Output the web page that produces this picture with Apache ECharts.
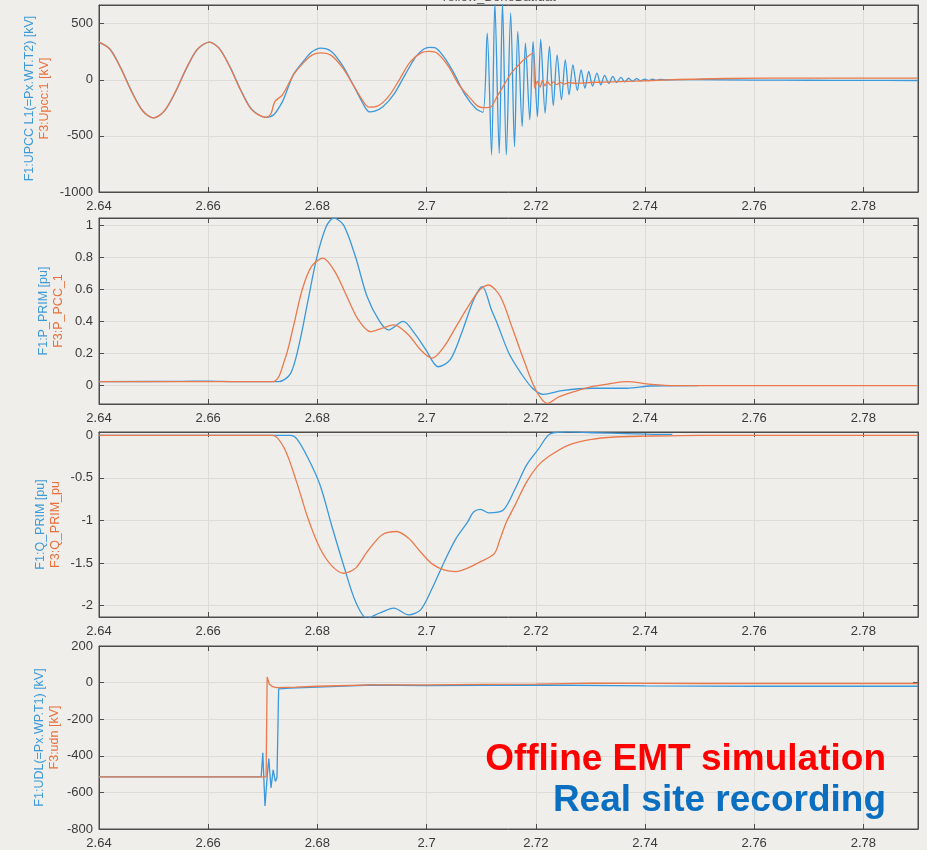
<!DOCTYPE html>
<html>
<head>
<meta charset="utf-8">
<script src="https://cdn.jsdelivr.net/npm/echarts@6/dist/echarts.min.js"></script>
<style>
html,body{margin:0;padding:0;background:#efeeea;}
#chart{width:927px;height:850px;}
</style>
</head>
<body>
<div id="chart"></div>
<script>
// ---- data (time [s], value) ----
const xTicks = [2.64, 2.66, 2.68, 2.70, 2.72, 2.74, 2.76, 2.78];

const upccBlue = [[2.640,336],[2.642,275],[2.644,105],[2.646,-105],[2.648,-275],[2.650,-340],[2.652,-277],[2.654,-108],[2.656,100],[2.658,270],[2.6602,336],[2.662,282],[2.664,115],[2.666,-95],[2.668,-265],[2.6706,-335],[2.672,-312],[2.6736,-194],[2.6745,-85],[2.6757,55],[2.6776,175],[2.679,250],[2.6806,283],[2.6825,255],[2.6845,135],[2.6865,-40],[2.6885,-225],[2.6895,-285],[2.6905,-280],[2.692,-240],[2.694,-130],[2.696,40],[2.698,205],[2.6995,275],[2.7005,290],[2.7015,286],[2.703,215],[2.705,60],[2.707,-130],[2.709,-255],[2.7103,-290],
[2.7111,417],[2.7119,-670],[2.7125,690],[2.7133,-655],[2.7139,690],[2.7146,-670],[2.7154,596],[2.7161,-596],[2.7167,432],[2.7175,-417],[2.7181,328],[2.7189,-357],[2.7195,342],[2.7203,-328],[2.7209,363],[2.7217,-297],[2.7225,297],[2.7232,-229],[2.7239,223],[2.7247,-178],[2.7254,178],[2.7261,-134],[2.7268,134],[2.7276,-95],[2.7283,89],[2.729,-74],[2.7297,74],[2.7304,-55],[2.7312,60],[2.7319,-45],[2.7326,40],[2.7334,-32],[2.7341,30],[2.7348,-24],[2.7356,22],[2.7363,-18],[2.737,14],[2.7377,-12],[2.7385,10],[2.7392,-9],[2.7399,7],[2.7407,-7],[2.7414,5],[2.7421,-5],[2.7428,3],[2.744,0],[2.75,2],[2.76,-2],[2.77,-4],[2.78,-5],[2.79,-6]];

const upccOrange = [[2.640,336],[2.642,272],[2.644,102],[2.646,-108],[2.648,-278],[2.650,-340],[2.652,-274],[2.654,-105],[2.656,103],[2.658,272],[2.6602,336],[2.662,280],[2.664,112],[2.666,-98],[2.668,-268],[2.6706,-335],[2.6715,-300],[2.6722,-194],[2.6736,-134],[2.6757,50],[2.6776,160],[2.679,220],[2.6806,240],[2.6825,218],[2.6845,115],[2.6865,-40],[2.6885,-200],[2.6895,-243],[2.691,-235],[2.693,-150],[2.695,0],[2.697,160],[2.699,240],[2.7005,253],[2.702,235],[2.704,120],[2.706,-50],[2.7081,-170],[2.7093,-232],[2.7105,-248],[2.7117,-244],[2.7129,-149],[2.7142,-45],[2.7154,54],[2.7166,119],[2.7178,179],[2.7195,238],[2.7198,-74],[2.7203,-15],[2.7208,-65],[2.7212,-6],[2.7217,-54],[2.7221,-15],[2.7227,-47],[2.7232,-18],[2.7238,-42],[2.7245,-22],[2.7252,-38],[2.726,-25],[2.7275,-32],[2.7298,-24],[2.7382,-12],[2.7443,0],[2.7546,12],[2.77,15],[2.79,16]];

const pBlue = [[2.640,0.025],[2.655,0.027],[2.66,0.028],[2.665,0.025],[2.6729,0.025],[2.6751,0.077],[2.6767,0.264],[2.6783,0.534],[2.6799,0.80],[2.6816,0.99],[2.683,1.043],[2.6848,1.00],[2.687,0.80],[2.6891,0.555],[2.6914,0.40],[2.693,0.347],[2.6957,0.40],[2.6978,0.326],[2.6999,0.222],[2.7021,0.118],[2.7043,0.16],[2.7064,0.326],[2.7086,0.534],[2.7102,0.617],[2.7119,0.47],[2.7129,0.39],[2.7151,0.20],[2.7173,0.077],[2.7194,-0.016],[2.7214,-0.054],[2.7248,-0.031],[2.7302,-0.016],[2.7367,-0.016],[2.741,-0.002],[2.7497,0]];

const pOrange = [[2.640,0.025],[2.6718,0.025],[2.674,0.16],[2.6756,0.368],[2.6772,0.596],[2.6789,0.741],[2.681,0.794],[2.6832,0.71],[2.6854,0.555],[2.6875,0.41],[2.6897,0.336],[2.6918,0.357],[2.694,0.378],[2.6967,0.316],[2.6989,0.222],[2.701,0.171],[2.7032,0.243],[2.7054,0.368],[2.7076,0.492],[2.7097,0.596],[2.7113,0.627],[2.7135,0.555],[2.7156,0.368],[2.7178,0.16],[2.72,-0.027],[2.7221,-0.11],[2.7243,-0.068],[2.727,-0.037],[2.7302,-0.006],[2.7335,0.012],[2.7367,0.025],[2.741,0.009],[2.7454,0],[2.79,0]];

const qBlue = [[2.640,0],[2.6751,0],[2.6762,-0.04],[2.6783,-0.27],[2.6805,-0.587],[2.6826,-1.056],[2.6848,-1.526],[2.687,-1.956],[2.6891,-2.15],[2.6913,-2.09],[2.694,-2.03],[2.6967,-2.11],[2.6989,-2.05],[2.701,-1.80],[2.7032,-1.49],[2.7054,-1.21],[2.7075,-1.02],[2.7086,-0.90],[2.7099,-0.87],[2.7113,-0.91],[2.714,-0.88],[2.7162,-0.63],[2.7183,-0.35],[2.7205,-0.16],[2.7227,0.02],[2.7259,0.04],[2.7302,0.03],[2.7367,0.02],[2.7432,0.01],[2.745,0.01]];

const qOrange = [[2.640,0],[2.6718,0],[2.674,-0.16],[2.6762,-0.55],[2.6783,-0.98],[2.6805,-1.33],[2.6826,-1.53],[2.6848,-1.62],[2.687,-1.56],[2.6891,-1.37],[2.6918,-1.17],[2.6945,-1.13],[2.6967,-1.21],[2.6989,-1.37],[2.701,-1.51],[2.7032,-1.58],[2.7054,-1.60],[2.7075,-1.56],[2.7097,-1.49],[2.7124,-1.39],[2.7135,-1.21],[2.7146,-1.02],[2.7162,-0.82],[2.7183,-0.55],[2.7205,-0.35],[2.7227,-0.235],[2.7259,-0.117],[2.7302,-0.047],[2.7345,-0.02],[2.74,-0.01],[2.75,0],[2.79,0]];

const udlBlue = [[2.640,-515],[2.6697,-515],[2.670,-384],[2.6704,-674],[2.6709,-477],[2.6711,-415],[2.6715,-575],[2.6719,-477],[2.6723,-540],[2.6726,-520],[2.6729,-34],[2.675,-30],[2.68,-25],[2.69,-13],[2.70,-16],[2.72,-13],[2.74,-18],[2.76,-20],[2.79,-20]];

const udnOrange = [[2.640,-515],[2.6706,-515],[2.6708,31],[2.6712,-9],[2.6718,-22],[2.6725,-28],[2.676,-25],[2.68,-20],[2.69,-12],[2.70,-12],[2.71,-10],[2.72,-8],[2.73,-3],[2.75,-5],[2.79,-5]];

const panelNames = [
  ['F1:UPCC L1(=Px.WT.T2) [kV]', 'F3:Upcc:1 [kV]'],
  ['F1:P_PRIM [pu]', 'F3:P_PCC_1'],
  ['F1:Q_PRIM [pu]', 'F3:Q_PRIM_pu'],
  ['F1:UDL(=Px.WP.T1) [kV]', 'F3:udn [kV]']
];
// [min, max, interval or null, splitNumber]
const yRanges = [[-1000, 667, 500, null], [-0.114, 1.044, null, 6], [-2.134, 0.039, null, 4], [-800, 200, 200, null]];
const titleText = 'Yellow_BoneBat.dat';
const legendTexts = ['Offline EMT simulation', 'Real site recording'];

// ---- layout / style ----
const BLUE = '#3a98dc', ORANGE = '#ea7a4c';
const AXIS = '#4d4d4d', GRID = '#dcdbd8', TXT = '#3a3a3a';
const FONT = 'Liberation Sans, Arial, sans-serif';
const gridBoxes = [{top:5,height:187},{top:218,height:186},{top:432,height:185},{top:646,height:184}];
const nameGaps = [47, 33, 36, 37];
const fmt = v => String(parseFloat(Number(v).toFixed(6)));

const grid = [], xAxis = [], yAxis = [], series = [];
const lineData = [[upccBlue, upccOrange], [pBlue, pOrange], [qBlue, qOrange], [udlBlue, udnOrange]];

gridBoxes.forEach((g, i) => {
  grid.push({left:99, right:9, top:g.top, height:g.height, show:true, borderColor:AXIS, borderWidth:1, backgroundColor:'transparent'});
  const lineStyle = {color:AXIS, width:1};
  xAxis.push({
    gridIndex:i, type:'value', min:xTicks[0], max:2.79, interval:0.02, position:'bottom',
    axisLine:{show:true, onZero:false, lineStyle},
    axisTick:{show:true, inside:true, length:5, lineStyle},
    axisLabel:{show:true, showMaxLabel:false, margin:8, fontSize:13, color:TXT, fontFamily:FONT, formatter:fmt},
    splitLine:{show:true, lineStyle:{color:GRID, width:1}}
  });
  xAxis.push({
    gridIndex:i, type:'value', min:xTicks[0], max:2.79, interval:0.02, position:'top',
    axisLine:{show:true, onZero:false, lineStyle},
    axisTick:{show:true, inside:true, length:5, lineStyle},
    axisLabel:{show:false}, splitLine:{show:false}
  });
  const r = yRanges[i];
  const yBase = {gridIndex:i, type:'value', min:r[0], max:r[1]};
  if (r[2] != null) yBase.interval = r[2]; else yBase.splitNumber = r[3];
  yAxis.push(Object.assign({}, yBase, {
    position:'left',
    axisLine:{show:true, onZero:false, lineStyle},
    axisTick:{show:true, inside:true, length:5, lineStyle},
    axisLabel:{show:true, showMaxLabel:(i===3), showMinLabel:(i===0||i===3), margin:6, fontSize:13, color:TXT, fontFamily:FONT, formatter:fmt},
    splitLine:{show:true, lineStyle:{color:GRID, width:1}},
    name:'{b|' + panelNames[i][0] + '}\n{o|' + panelNames[i][1] + '}',
    nameLocation:'middle', nameRotate:90, nameGap:nameGaps[i], nameMoveOverlap:false,
    nameTextStyle:{align:'center', fontFamily:FONT, rich:{
      b:{color:'#3d9ad8', fontSize:12.5, lineHeight:15, fontFamily:FONT},
      o:{color:'#e8703e', fontSize:12.5, lineHeight:15, fontFamily:FONT}}}
  }));
  yAxis.push(Object.assign({}, yBase, {
    position:'right',
    axisLine:{show:true, onZero:false, lineStyle},
    axisTick:{show:true, inside:true, length:5, lineStyle},
    axisLabel:{show:false}, splitLine:{show:false}
  }));
  const sm = i === 3 ? false : 0.3;
  series.push({type:'line', xAxisIndex:2*i, yAxisIndex:2*i, data:lineData[i][0], showSymbol:false, smooth:sm, lineStyle:{color:BLUE, width:1.3}, itemStyle:{color:BLUE}, clip:true, z:2});
  series.push({type:'line', xAxisIndex:2*i, yAxisIndex:2*i, data:lineData[i][1], showSymbol:false, smooth:sm, lineStyle:{color:ORANGE, width:1.3}, itemStyle:{color:ORANGE}, clip:true, z:3});
});

const chart = echarts.init(document.getElementById('chart'), null, {renderer:'canvas'});
chart.setOption({
  backgroundColor:'#efeeea',
  animation:false,
  grid, xAxis, yAxis, series,
  graphic:[
    {type:'text', left:440, top:-9, style:{text:titleText, fontSize:13, fill:'#555', fontFamily:FONT}},
    {type:'text', x:886, y:778, z:100, style:{text:legendTexts[0], fill:'#ff0000', fontSize:37, fontWeight:'bold', fontFamily:FONT, align:'right', verticalAlign:'bottom'}},
    {type:'text', x:886, y:819, z:100, style:{text:legendTexts[1], fill:'#0b6fc1', fontSize:37, fontWeight:'bold', fontFamily:FONT, align:'right', verticalAlign:'bottom'}}
  ]
});
</script>
</body>
</html>
